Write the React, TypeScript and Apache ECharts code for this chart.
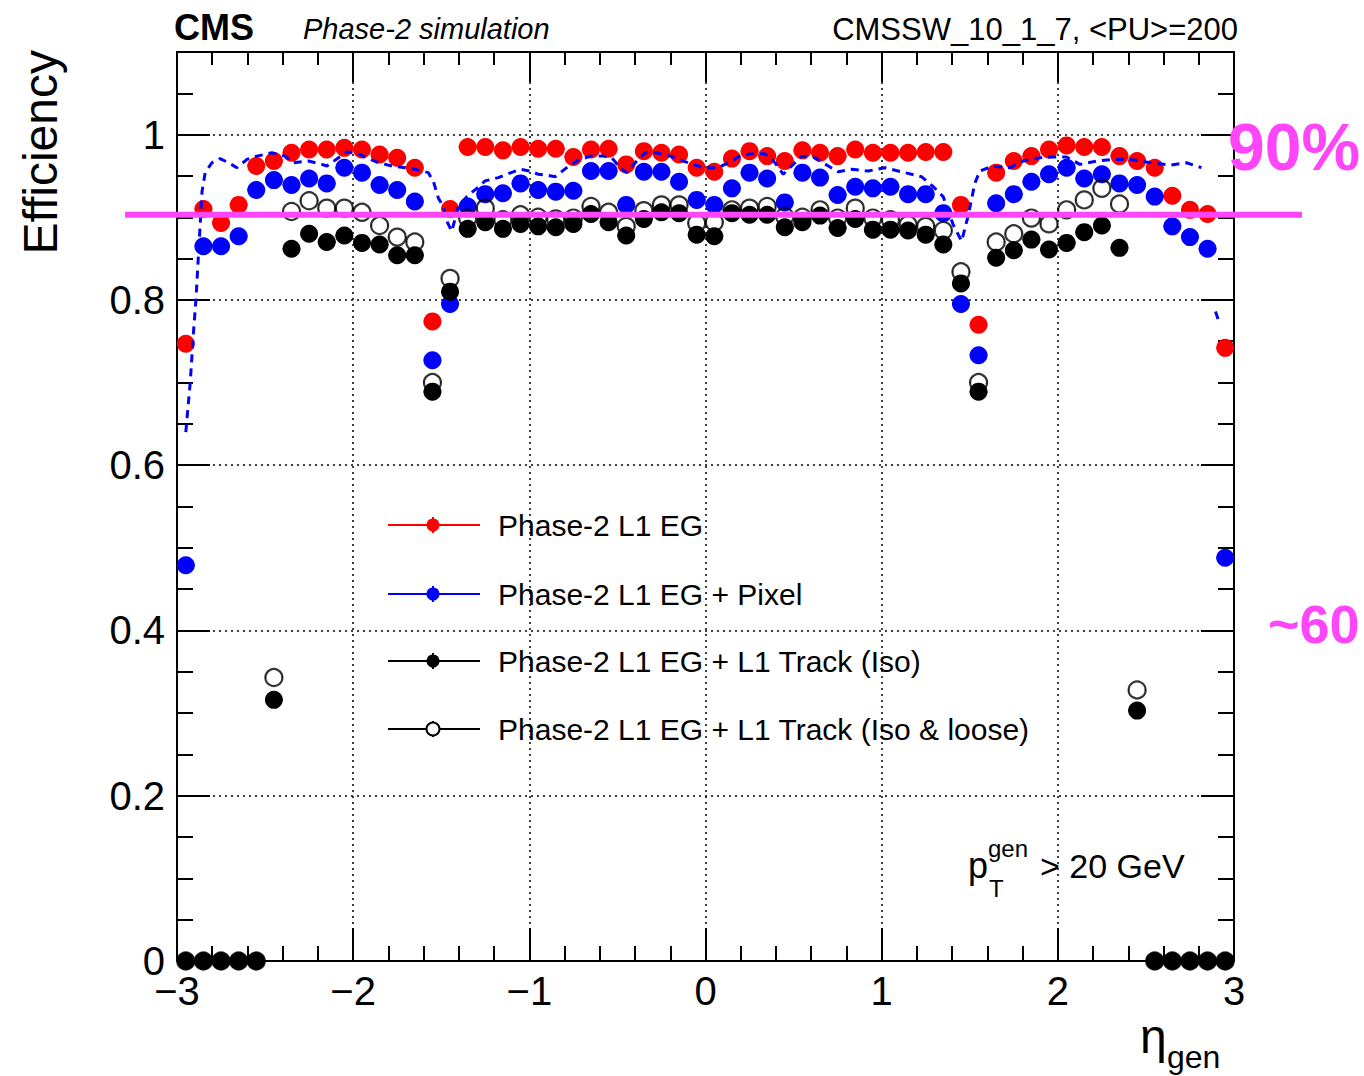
import React, { useEffect, useRef } from "react";
import * as echarts from "echarts";

// ---- data ----
const etaBins = [
  -2.95, -2.85, -2.75, -2.65, -2.55, -2.45, -2.35, -2.25, -2.15, -2.05,
  -1.95, -1.85, -1.75, -1.65, -1.55, -1.45, -1.35, -1.25, -1.15, -1.05,
  -0.95, -0.85, -0.75, -0.65, -0.55, -0.45, -0.35, -0.25, -0.15, -0.05,
  0.05, 0.15, 0.25, 0.35, 0.45, 0.55, 0.65, 0.75, 0.85, 0.95,
  1.05, 1.15, 1.25, 1.35, 1.45, 1.55, 1.65, 1.75, 1.85, 1.95,
  2.05, 2.15, 2.25, 2.35, 2.45, 2.55, 2.65, 2.75, 2.85, 2.95,
];

const effEG = [
  0.747, 0.910, 0.893, 0.915, 0.962, 0.968, 0.978, 0.982, 0.982, 0.984,
  0.982, 0.976, 0.972, 0.960, 0.774, 0.910, 0.985, 0.985, 0.981, 0.985,
  0.983, 0.983, 0.973, 0.982, 0.983, 0.964, 0.980, 0.978, 0.976, 0.960,
  0.955, 0.971, 0.980, 0.974, 0.968, 0.981, 0.978, 0.974, 0.982, 0.978,
  0.978, 0.978, 0.979, 0.979, 0.915, 0.770, 0.954, 0.968, 0.974, 0.982,
  0.987, 0.985, 0.985, 0.974, 0.968, 0.960, 0.926, 0.909, 0.904, 0.742,
];

const effEGPixel = [
  0.479, 0.865, 0.865, 0.877, 0.933, 0.945, 0.939, 0.947, 0.941, 0.960,
  0.954, 0.939, 0.933, 0.919, 0.727, 0.795, 0.913, 0.928, 0.929, 0.941,
  0.933, 0.931, 0.932, 0.956, 0.956, 0.915, 0.955, 0.955, 0.943, 0.921,
  0.915, 0.935, 0.954, 0.947, 0.918, 0.954, 0.948, 0.927, 0.937, 0.935,
  0.937, 0.928, 0.928, 0.905, 0.795, 0.733, 0.917, 0.928, 0.943, 0.952,
  0.960, 0.947, 0.952, 0.941, 0.939, 0.925, 0.889, 0.876, 0.862, 0.488,
];

const effEGTrkIso = [
  0, 0, 0, 0, 0, 0.316, 0.862, 0.880, 0.870, 0.878,
  0.869, 0.867, 0.854, 0.854, 0.689, 0.810, 0.886, 0.894, 0.886, 0.892,
  0.889, 0.888, 0.892, 0.904, 0.894, 0.878, 0.898, 0.906, 0.905, 0.879,
  0.877, 0.905, 0.903, 0.903, 0.888, 0.894, 0.902, 0.887, 0.898, 0.885,
  0.885, 0.884, 0.879, 0.867, 0.820, 0.689, 0.851, 0.860, 0.873, 0.861,
  0.869, 0.882, 0.890, 0.863, 0.303, 0, 0, 0, 0, 0,
];

const effEGTrkIsoLoose = [
  0, 0, 0, 0, 0, 0.343, 0.907, 0.920, 0.911, 0.911,
  0.906, 0.890, 0.876, 0.870, 0.700, 0.826, 0.899, 0.911, 0.897, 0.903,
  0.900, 0.898, 0.899, 0.913, 0.906, 0.889, 0.908, 0.915, 0.915, 0.893,
  0.894, 0.909, 0.911, 0.913, 0.901, 0.900, 0.909, 0.899, 0.911, 0.899,
  0.897, 0.891, 0.889, 0.884, 0.834, 0.700, 0.870, 0.880, 0.899, 0.892,
  0.909, 0.921, 0.935, 0.916, 0.328, 0, 0, 0, 0, 0,
];

// dashed blue reference curve
const refEta = [
  -2.95, -2.938, -2.925, -2.906, -2.892, -2.877, -2.858, -2.84, -2.802, -2.755,
  -2.708, -2.66, -2.603, -2.546, -2.461, -2.386, -2.339, -2.254, -2.178, -2.149,
  -2.083, -2.036, -1.979, -1.922, -1.856, -1.78, -1.705, -1.648, -1.573, -1.544,
  -1.516, -1.488, -1.468, -1.44, -1.403, -1.355, -1.298, -1.251, -1.176, -1.128,
  -1.052, -0.996, -0.949, -0.901, -0.854, -0.788, -0.731, -0.655, -0.58, -0.532,
  -0.485, -0.447, -0.39, -0.343, -0.277, -0.201, -0.126, -0.069, -0.012, 0.016,
  0.073, 0.129, 0.196, 0.262, 0.338, 0.394, 0.441, 0.489, 0.546, 0.621,
  0.697, 0.753, 0.83, 0.924, 1.018, 1.132, 1.227, 1.293, 1.349, 1.406,
  1.454, 1.491, 1.529, 1.557, 1.633, 1.728, 1.803, 1.898, 1.973, 2.049,
  2.125, 2.22, 2.314, 2.409, 2.503, 2.636, 2.73, 2.815,
];
const refEff = [
  0.640, 0.669, 0.700, 0.762, 0.802, 0.859, 0.931, 0.954, 0.966, 0.971,
  0.966, 0.960, 0.970, 0.974, 0.978, 0.974, 0.966, 0.968, 0.964, 0.962,
  0.972, 0.979, 0.978, 0.972, 0.966, 0.962, 0.960, 0.958, 0.954, 0.943,
  0.923, 0.913, 0.895, 0.883, 0.913, 0.925, 0.935, 0.944, 0.948, 0.952,
  0.958, 0.956, 0.952, 0.951, 0.949, 0.960, 0.968, 0.974, 0.974, 0.972,
  0.960, 0.954, 0.968, 0.978, 0.978, 0.974, 0.968, 0.964, 0.960, 0.960,
  0.960, 0.966, 0.974, 0.977, 0.977, 0.966, 0.952, 0.962, 0.974, 0.972,
  0.962, 0.955, 0.958, 0.956, 0.960, 0.954, 0.949, 0.937, 0.925, 0.891,
  0.871, 0.902, 0.941, 0.956, 0.962, 0.960, 0.968, 0.972, 0.973, 0.973,
  0.964, 0.968, 0.970, 0.970, 0.967, 0.963, 0.966, 0.960,
];
const refEtaTail = [2.895, 2.912];
const refEffTail = [0.786, 0.775];

const binHalfWidth = 0.05;
const threshold = 0.903;

const legendNames = [
  "Phase-2 L1 EG",
  "Phase-2 L1 EG + Pixel",
  "Phase-2 L1 EG + L1 Track (Iso)",
  "Phase-2 L1 EG + L1 Track (Iso & loose)",
];

const FONT = "'Liberation Sans', Arial, Helvetica, sans-serif";
const MAGENTA = "#ff45fa";
const MARKER = 18;

export default function App() {
  const ref = useRef<HTMLDivElement>(null);

  useEffect(() => {
    document.body.style.margin = "0";
    const chart = echarts.init(ref.current!, null, { renderer: "svg" });

    const pairs = (xs: number[], ys: number[]) => xs.map((x, i) => [x, ys[i]]);

    const errBars = (data: number[][], color: string, z: number) => ({
      type: "custom",
      data,
      z,
      silent: true,
      clip: false,
      encode: { x: 0, y: 1 },
      renderItem: (_p: any, api: any) => {
        const x = api.value(0);
        const y = api.value(1);
        const a = api.coord([x - binHalfWidth, y]);
        const b = api.coord([x + binHalfWidth, y]);
        const c = api.coord([x, y]);
        const r = MARKER / 2 - 1;
        return {
          type: "group",
          children: [
            {
              type: "line",
              shape: { x1: a[0], y1: a[1], x2: c[0] - r, y2: c[1] },
              style: { stroke: color, lineWidth: 2 },
            },
            {
              type: "line",
              shape: { x1: c[0] + r, y1: c[1], x2: b[0], y2: b[1] },
              style: { stroke: color, lineWidth: 2 },
            },
          ],
        };
      },
    });

    const scatter = (name: string, data: number[][], color: string, z: number, open = false) => ({
      type: "scatter",
      name,
      data,
      z,
      clip: false,
      symbol: "circle",
      symbolSize: open ? MARKER - 1 : MARKER,
      itemStyle: open
        ? { color: "rgba(255,255,255,0)", borderColor: "#000", borderWidth: 2.2 }
        : { color, opacity: 1 },
    });

    const dataEG = pairs(etaBins, effEG);
    const dataPix = pairs(etaBins, effEGPixel);
    const dataIso = pairs(etaBins, effEGTrkIso);
    const dataLoose = pairs(etaBins, effEGTrkIsoLoose);

    const xFmt = (v: number) => (v < 0 ? "\u2212" + Math.abs(v) : String(v));
    const yFmt = (v: number) => (v === 0 ? "0" : String(Math.round(v * 10) / 10));

    const line2 = { color: "#000", width: 2 };

    const option: any = {
      animation: false,
      backgroundColor: "#fff",
      grid: { left: 177, right: 130, top: 52, bottom: 115 },
      xAxis: [
        {
          type: "value",
          min: -3,
          max: 3,
          interval: 1,
          position: "bottom",
          axisLine: { show: true, onZero: false, lineStyle: line2 },
          axisTick: { show: true, inside: true, length: 33, lineStyle: line2 },
          minorTick: { show: true, splitNumber: 5, length: 15, lineStyle: line2 },
          splitLine: { show: true, lineStyle: { color: "#000", type: [2, 4], width: 1.5 } },
          axisLabel: { fontSize: 40, color: "#000", fontFamily: FONT, margin: 10, formatter: xFmt },
        },
        {
          type: "value",
          min: -3,
          max: 3,
          interval: 1,
          position: "top",
          axisLine: { show: true, onZero: false, lineStyle: line2 },
          axisTick: { show: true, inside: true, length: 30, lineStyle: line2 },
          minorTick: { show: true, splitNumber: 5, length: 13, lineStyle: line2 },
          splitLine: { show: false },
          axisLabel: { show: false },
        },
      ],
      yAxis: [
        {
          type: "value",
          min: 0,
          max: 1.1,
          interval: 0.2,
          position: "left",
          axisLine: { show: true, onZero: false, lineStyle: line2 },
          axisTick: { show: true, inside: true, length: 33, lineStyle: line2 },
          splitLine: { show: true, lineStyle: { color: "#000", type: [2, 4], width: 1.5 } },
          axisLabel: {
            fontSize: 40,
            color: "#000",
            fontFamily: FONT,
            margin: 12,
            showMaxLabel: false,
            formatter: yFmt,
          },
        },
        {
          type: "value",
          min: 0,
          max: 1.1,
          interval: 0.05,
          position: "left",
          axisLine: { show: false, onZero: false },
          axisTick: { show: true, inside: true, length: 16, lineStyle: line2 },
          splitLine: { show: false },
          axisLabel: { show: false },
        },
        {
          type: "value",
          min: 0,
          max: 1.1,
          interval: 0.2,
          position: "right",
          axisLine: { show: true, onZero: false, lineStyle: line2 },
          axisTick: { show: true, inside: true, length: 33, lineStyle: line2 },
          splitLine: { show: false },
          axisLabel: { show: false },
        },
        {
          type: "value",
          min: 0,
          max: 1.1,
          interval: 0.05,
          position: "right",
          axisLine: { show: false, onZero: false },
          axisTick: { show: true, inside: true, length: 16, lineStyle: line2 },
          splitLine: { show: false },
          axisLabel: { show: false },
        },
      ],
      series: [
        errBars(dataEG, "#ff0000", 2),
        scatter(legendNames[0], dataEG, "#ff0000", 2),
        errBars(dataPix, "#0000ff", 3),
        scatter(legendNames[1], dataPix, "#0000ff", 3),
        errBars(dataLoose, "#000", 4),
        scatter(legendNames[3], dataLoose, "#000", 4, true),
        errBars(dataIso, "#000", 5),
        scatter(legendNames[2], dataIso, "#000", 5),
        {
          type: "line",
          data: pairs(refEta, refEff),
          z: 6,
          showSymbol: false,
          symbol: "none",
          clip: false,
          lineStyle: { color: "#0000ff", width: 3, type: [8, 6] },
        },
        {
          type: "line",
          data: pairs(refEtaTail, refEffTail),
          z: 6,
          showSymbol: false,
          symbol: "none",
          clip: false,
          lineStyle: { color: "#0000ff", width: 3, type: [8, 6] },
        },
      ],
    };

    chart.setOption(option);

    const yThr = chart.convertToPixel({ yAxisIndex: 0 }, threshold) as number;

    const legendRows = [525, 594, 661, 729];
    const legendColors = ["#ff0000", "#0000ff", "#000", "#000"];
    const legendEls: any[] = [];
    legendRows.forEach((y, i) => {
      const c = legendColors[i];
      legendEls.push({
        type: "line",
        shape: { x1: 388, y1: y, x2: 480, y2: y },
        style: { stroke: c, lineWidth: 2 },
      });
      legendEls.push({
        type: "line",
        shape: { x1: 433, y1: y - 8, x2: 433, y2: y + 8 },
        style: { stroke: c, lineWidth: 2 },
      });
      legendEls.push({
        type: "circle",
        shape: { cx: 433, cy: y, r: 6.5 },
        style: i === 3 ? { fill: "#fff", stroke: "#000", lineWidth: 2 } : { fill: c },
      });
      legendEls.push({
        type: "text",
        x: 498,
        y,
        style: {
          text: legendNames[i],
          font: `30px ${FONT}`,
          fill: "#000",
          verticalAlign: "middle",
          align: "left",
        },
      });
    });

    chart.setOption({
      graphic: [
        {
          type: "text",
          x: 174,
          y: 27,
          style: { text: "CMS", font: `bold 36px ${FONT}`, fill: "#000", verticalAlign: "middle" },
        },
        {
          type: "text",
          x: 303,
          y: 29,
          style: { text: "Phase-2 simulation", font: `italic 29px ${FONT}`, fill: "#000", verticalAlign: "middle" },
        },
        {
          type: "text",
          x: 1238,
          y: 29,
          style: {
            text: "CMSSW_10_1_7, <PU>=200",
            font: `31px ${FONT}`,
            fill: "#000",
            align: "right",
            verticalAlign: "middle",
          },
        },
        {
          type: "text",
          x: 40,
          y: 50,
          rotation: Math.PI / 2,
          style: {
            text: "Efficiency",
            font: `48px ${FONT}`,
            fill: "#000",
            align: "right",
            verticalAlign: "middle",
          },
        },
        {
          type: "text",
          x: 1140,
          y: 1036,
          style: { text: "\u03b7", font: `48px ${FONT}`, fill: "#000", verticalAlign: "middle" },
        },
        {
          type: "text",
          x: 1167,
          y: 1057,
          style: { text: "gen", font: `32px ${FONT}`, fill: "#000", verticalAlign: "middle" },
        },
        {
          type: "text",
          x: 968,
          y: 865,
          style: { text: "p", font: `36px ${FONT}`, fill: "#000", verticalAlign: "middle" },
        },
        {
          type: "text",
          x: 988,
          y: 848,
          style: { text: "gen", font: `24px ${FONT}`, fill: "#000", verticalAlign: "middle" },
        },
        {
          type: "text",
          x: 989,
          y: 888,
          style: { text: "T", font: `24px ${FONT}`, fill: "#000", verticalAlign: "middle" },
        },
        {
          type: "text",
          x: 1040,
          y: 866,
          style: { text: "> 20 GeV", font: `34px ${FONT}`, fill: "#000", verticalAlign: "middle" },
        },
        ...legendEls,
        {
          type: "line",
          z: 100,
          shape: { x1: 125, y1: yThr, x2: 1302, y2: yThr },
          style: { stroke: MAGENTA, lineWidth: 6 },
        },
        {
          type: "text",
          z: 100,
          x: 1228,
          y: 147,
          style: { text: "90%", font: `bold 66px ${FONT}`, fill: MAGENTA, verticalAlign: "middle" },
        },
        {
          type: "text",
          z: 100,
          x: 1268,
          y: 624,
          style: { text: "~60", font: `bold 54px ${FONT}`, fill: MAGENTA, verticalAlign: "middle" },
        },
      ],
    });

    return () => chart.dispose();
  }, []);

  return <div ref={ref} style={{ width: 1364, height: 1076 }} />;
}
